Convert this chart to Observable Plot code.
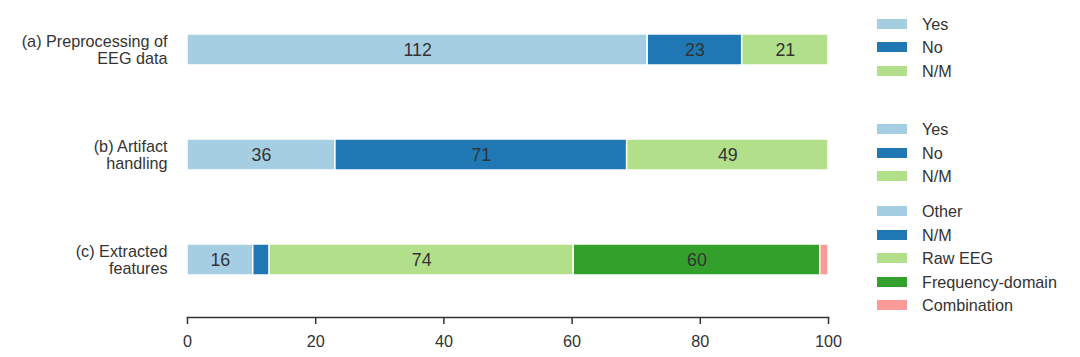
<!DOCTYPE html>
<html>
<head>
<meta charset="utf-8">
<script src="https://cdn.jsdelivr.net/npm/d3@7"></script>
<script src="https://cdn.jsdelivr.net/npm/@observablehq/plot@0.6"></script>
<style>
  html, body { margin: 0; padding: 0; background: #fff; }
  #wrap { position: relative; width: 1080px; height: 357px; font-family: "Liberation Sans", Arial, sans-serif; color: #333; overflow: hidden; }
  #chart { position: absolute; left: 0; top: 0; }
  #chart svg { display: block; }
  .legend { position: absolute; left: 877px; top: 0; width: 203px; height: 357px; font-size: 16.2px; }
  .item { position: absolute; left: 0; height: 20px; white-space: nowrap; }
  .sw { position: absolute; left: 0; width: 30px; height: 10px; }
  .lb { position: absolute; left: 45px; top: 0; line-height: 20px; }
</style>
</head>
<body>
<div id="wrap">
  <div id="chart"></div>
  <div id="legend" class="legend"></div>
</div>
<script>
// ---- data ----
const categories = ["(a) Preprocessing of\nEEG data", "(b) Artifact\nhandling", "(c) Extracted\nfeatures"];
const preprocessingLabels = ["Yes", "No", "N/M"];
const preprocessingCounts = [112, 23, 21];
const artifactLabels = ["Yes", "No", "N/M"];
const artifactCounts = [36, 71, 49];
const featureLabels = ["Other", "N/M", "Raw EEG", "Frequency-domain", "Combination"];
const featureCounts = [16, 4, 74, 60, 2];
const palette = ["#a6cee3", "#1f78b4", "#b2df8a", "#33a02c", "#fb9a99"];
const xTicks = [0, 20, 40, 60, 80, 100];

const groups = [
  {cat: categories[0], labels: preprocessingLabels, counts: preprocessingCounts},
  {cat: categories[1], labels: artifactLabels, counts: artifactCounts},
  {cat: categories[2], labels: featureLabels, counts: featureCounts}
];
const rows = [];
for (const g of groups) {
  const total = d3.sum(g.counts);
  g.counts.forEach((c, i) => rows.push({cat: g.cat, label: g.labels[i], count: c, pct: c / total * 100, color: palette[i]}));
}

const ink = "#333";
const chart = Plot.plot({
  width: 1080,
  height: 357,
  marginLeft: 187,
  marginRight: 252,
  marginTop: 34,
  marginBottom: 40,
  style: {fontFamily: "'Liberation Sans', Arial, sans-serif", fontSize: "16.2px", color: ink, background: "transparent"},
  x: {domain: [0, 100]},
  y: {domain: categories, range: [34, 275], paddingInner: 0.705, paddingOuter: 0},
  color: {type: "identity"},
  marks: [
    Plot.barX(rows, Plot.stackX({x: "pct", y: "cat", fill: "color", stroke: "white", strokeWidth: 1.5, order: null})),
    Plot.text(rows, Plot.stackX({x: "pct", y: "cat", text: d => d.count >= 10 ? String(d.count) : "", fill: ink, fontSize: 17.8, order: null})),
    Plot.frame({anchor: "bottom", stroke: ink, strokeWidth: 1.5}),
    Plot.axisX({ticks: xTicks, tickSize: 7, tickPadding: 11, stroke: ink, strokeWidth: 1.5, fill: ink, fontSize: 16.2, label: null}),
    Plot.axisY({tickSize: 0, tickPadding: 20, fill: ink, fontSize: 16.2, label: null, lineHeight: 1.08})
  ]
});
document.getElementById("chart").appendChild(chart);

// legend
const legendRows = [
  {labels: preprocessingLabels, tops: [24, 47, 71]},
  {labels: artifactLabels, tops: [129, 153, 176]},
  {labels: featureLabels, tops: [211, 235, 258, 282, 305]}
];
const lg = document.getElementById("legend");
for (const grp of legendRows) {
  grp.labels.forEach((l, i) => {
    const it = document.createElement("div");
    it.className = "item";
    it.style.top = (grp.tops[i] - 10) + "px";
    const sw = document.createElement("div");
    sw.className = "sw";
    sw.style.top = "5px";
    sw.style.background = palette[i];
    const lb = document.createElement("div");
    lb.className = "lb";
    lb.textContent = l;
    it.appendChild(sw); it.appendChild(lb);
    lg.appendChild(it);
  });
}
</script>
</body>
</html>
